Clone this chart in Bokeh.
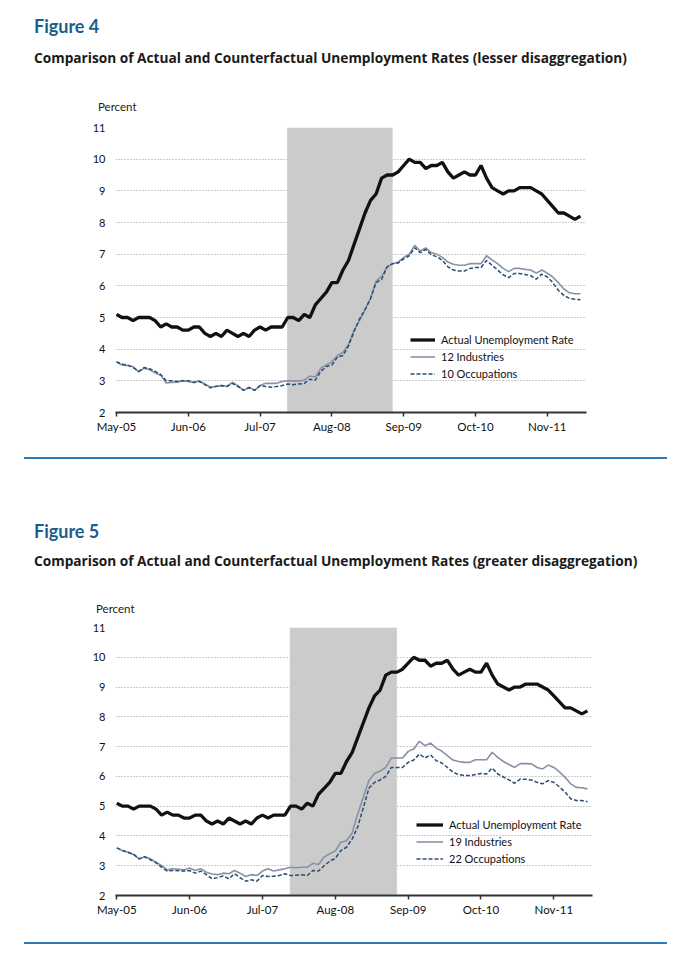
from bokeh.plotting import figure
from bokeh.models import Div, FixedTicker, Legend, LegendItem, Range1d
from bokeh.layouts import column
from bokeh.embed import file_html
from bokeh.resources import INLINE

# ---------------- data ----------------
# monthly index, May-2005 (0) ... May-2012 (84)
months = list(range(85))
tick_months = [0, 13, 26, 39, 52, 65, 78]
tick_labels = ["May-05", "Jun-06", "Jul-07", "Aug-08", "Sep-09", "Oct-10", "Nov-11"]
y_ticks = [2, 3, 4, 5, 6, 7, 8, 9, 10, 11]
recession_start = 30.9   # Dec-07
recession_end = 50.0     # Jul-09

actual = [5.1, 5.0, 5.0, 4.9, 5.0, 5.0, 5.0, 4.9,
          4.7, 4.8, 4.7, 4.7, 4.6, 4.6, 4.7, 4.7, 4.5, 4.4, 4.5, 4.4,
          4.6, 4.5, 4.4, 4.5, 4.4, 4.6, 4.7, 4.6, 4.7, 4.7, 4.7, 5.0,
          5.0, 4.9, 5.1, 5.0, 5.4, 5.6, 5.8, 6.1, 6.1, 6.5, 6.8, 7.3,
          7.8, 8.3, 8.7, 8.9, 9.4, 9.5, 9.5, 9.6, 9.8, 10.0, 9.9, 9.9,
          9.7, 9.8, 9.8, 9.9, 9.6, 9.4, 9.5, 9.6, 9.5, 9.5, 9.8, 9.4,
          9.1, 9.0, 8.9, 9.0, 9.0, 9.1, 9.1, 9.1, 9.0, 8.9, 8.7, 8.5,
          8.3, 8.3, 8.2, 8.1, 8.2]

industries_12 = [3.6, 3.5, 3.48, 3.45, 3.28, 3.4, 3.35, 3.25, 3.18, 2.93,
                 2.95, 2.96, 3.0, 2.98, 2.95, 3.0, 2.9, 2.8, 2.83, 2.85,
                 2.83, 2.95, 2.85, 2.7, 2.8, 2.7, 2.85, 2.92, 2.92, 2.92,
                 2.98, 3.0, 3.0, 3.0, 3.02, 3.15, 3.12, 3.4, 3.5, 3.6,
                 3.8, 3.9, 4.15, 4.6, 4.9, 5.25, 5.6, 6.15, 6.3, 6.6,
                 6.7, 6.75, 6.9, 7.0, 7.28, 7.1, 7.2, 7.05, 7.0, 6.9,
                 6.75, 6.68, 6.65, 6.65, 6.7, 6.7, 6.7, 6.95, 6.82, 6.7,
                 6.55, 6.45, 6.55, 6.55, 6.52, 6.5, 6.4, 6.5, 6.4, 6.28,
                 6.1, 5.9, 5.78, 5.75, 5.75]

occupations_10 = [3.6, 3.52, 3.5, 3.42, 3.3, 3.42, 3.38, 3.3, 3.2, 3.0,
                  3.0, 2.98, 3.0, 3.0, 2.95, 2.98, 2.88, 2.78, 2.82, 2.85,
                  2.82, 2.92, 2.82, 2.7, 2.78, 2.7, 2.85, 2.82, 2.8, 2.82,
                  2.85, 2.9, 2.88, 2.9, 2.92, 3.05, 3.02, 3.3, 3.45, 3.5,
                  3.75, 3.8, 4.1, 4.55, 4.95, 5.25, 5.6, 6.1, 6.2, 6.6,
                  6.7, 6.72, 6.85, 6.95, 7.2, 7.05, 7.15, 6.98, 6.92, 6.8,
                  6.6, 6.5, 6.47, 6.47, 6.55, 6.58, 6.58, 6.8, 6.65, 6.5,
                  6.35, 6.26, 6.39, 6.39, 6.36, 6.32, 6.21, 6.37, 6.28, 6.1,
                  5.86, 5.7, 5.6, 5.58, 5.56]

industries_19 = [3.6, 3.5, 3.45, 3.38, 3.23, 3.3, 3.23, 3.12, 3.0, 2.86,
                 2.9, 2.88, 2.86, 2.92, 2.84, 2.9, 2.78, 2.72, 2.7, 2.75,
                 2.73, 2.84, 2.75, 2.64, 2.7, 2.67, 2.82, 2.9, 2.82, 2.86,
                 2.9, 2.95, 2.93, 2.95, 2.95, 3.08, 3.04, 3.29, 3.4, 3.5,
                 3.79, 3.84, 4.1, 4.74, 5.3, 5.86, 6.1, 6.18, 6.3, 6.62,
                 6.62, 6.62, 6.84, 6.92, 7.18, 7.03, 7.12, 6.95, 6.85, 6.7,
                 6.55, 6.5, 6.47, 6.47, 6.56, 6.56, 6.56, 6.81, 6.64, 6.5,
                 6.4, 6.3, 6.43, 6.43, 6.42, 6.3, 6.25, 6.38, 6.3, 6.15,
                 5.97, 5.75, 5.63, 5.62, 5.58]

occupations_22 = [3.6, 3.52, 3.45, 3.38, 3.23, 3.3, 3.2, 3.1, 2.95, 2.82,
                  2.84, 2.83, 2.82, 2.84, 2.75, 2.82, 2.7, 2.56, 2.6, 2.66,
                  2.56, 2.73, 2.6, 2.48, 2.53, 2.48, 2.67, 2.64, 2.65, 2.67,
                  2.73, 2.67, 2.68, 2.7, 2.67, 2.84, 2.82, 3.0, 3.15, 3.25,
                  3.51, 3.62, 3.9, 4.3, 4.95, 5.6, 5.8, 5.88, 6.0, 6.3,
                  6.3, 6.3, 6.47, 6.55, 6.75, 6.62, 6.72, 6.53, 6.45, 6.3,
                  6.14, 6.06, 6.03, 6.03, 6.06, 6.1, 6.08, 6.28, 6.08, 5.98,
                  5.88, 5.77, 5.91, 5.9, 5.88, 5.8, 5.75, 5.86, 5.8, 5.65,
                  5.47, 5.25, 5.19, 5.19, 5.15]

# ---------------- styling helpers ----------------
FONT = "Lato"
BLACK = "#111111"
IND_COLOR = "#8791a7"
OCC_COLOR = "#2a4d70"
SHADE = "#cbcbcb"
RULE = "#2b7bb9"


def title_div(fig_label, subtitle, h, fig_top, sub_top, pct_top, pct_left):
    html = (
        f'<div style="position:relative;width:674px;height:{h}px;">'
        f'<div style="position:absolute;left:26px;top:{fig_top}px;font-family:Lato;font-size:18px;line-height:18px;'
        f'font-weight:bold;color:#1a5d8f;white-space:nowrap;">{fig_label}</div>'
        f'<div style="position:absolute;left:26px;top:{sub_top}px;font-family:\'Open Sans\';font-size:13.7px;line-height:14px;'
        f'font-weight:bold;color:#1a1a1a;white-space:nowrap;">{subtitle}</div>'
        f'<div style="position:absolute;left:{pct_left}px;top:{pct_top}px;font-family:Lato;font-size:11.5px;line-height:11.5px;'
        f'color:#222222;white-space:nowrap;">Percent</div>'
        '</div>'
    )
    return Div(text=html, width=674, height=h, margin=0)


def rule_div(h, top):
    html = (
        f'<div style="position:relative;width:674px;height:{h}px;">'
        f'<div style="position:absolute;left:16px;top:{top}px;width:643px;height:2px;background:{RULE};"></div>'
        '</div>'
    )
    return Div(text=html, width=674, height=h, margin=0)


def make_chart(ind, occ, ind_label, occ_label, frame_w, frame_h, bl, br, bt, bb,
               x0, x1, leg_loc, glyph_w, dotted_edges):
    p = figure(frame_width=frame_w, frame_height=frame_h,
               x_range=Range1d(x0, x1), y_range=Range1d(2, 11),
               output_backend="svg", toolbar_location=None,
               min_border_left=bl, min_border_right=br,
               min_border_top=bt, min_border_bottom=bb)
    p.outline_line_color = None
    p.background_fill_color = "white"
    p.border_fill_color = "white"

    # recession shading
    p.quad(left=[recession_start], right=[recession_end], bottom=[y_ticks[0]], top=[y_ticks[-1]],
           fill_color=SHADE, line_color="#e6e6e6" if dotted_edges else None,
           line_dash="1 2", line_width=1)

    r_ind = p.line(months, ind, line_color=IND_COLOR, line_width=1.6)
    r_occ = p.line(months, occ, line_color=OCC_COLOR, line_width=1.5, line_dash="4 2")
    r_act = p.line(months, actual, line_color=BLACK, line_width=3.3)

    # axes
    xa = p.xaxis[0]
    xa.ticker = FixedTicker(ticks=tick_months)
    xa.major_label_overrides = {m: lab for m, lab in zip(tick_months, tick_labels)}
    xa.axis_line_color = "#333333"
    xa.axis_line_width = 1.8
    xa.major_tick_line_color = "#333333"
    xa.major_tick_line_width = 1.5
    xa.major_tick_in = 0
    xa.major_tick_out = 4
    xa.minor_tick_line_color = None
    xa.major_label_text_font = FONT
    xa.major_label_text_font_size = "11.5px"
    xa.major_label_text_color = "#111111"
    xa.major_label_standoff = 3

    ya = p.yaxis[0]
    ya.ticker = FixedTicker(ticks=y_ticks)
    ya.axis_line_color = None
    ya.major_tick_line_color = None
    ya.minor_tick_line_color = None
    ya.major_label_text_font = FONT
    ya.major_label_text_font_size = "11px"
    ya.major_label_text_color = "#111111"
    ya.major_label_standoff = 4

    p.xgrid.visible = False
    p.ygrid.ticker = FixedTicker(ticks=y_ticks[1:])
    p.ygrid.grid_line_color = "#9a9a9a"
    p.ygrid.grid_line_dash = "1 2"
    p.ygrid.grid_line_width = 1

    legend = Legend(items=[LegendItem(label="Actual Unemployment Rate", renderers=[r_act]),
                           LegendItem(label=ind_label, renderers=[r_ind]),
                           LegendItem(label=occ_label, renderers=[r_occ])],
                    location=leg_loc, glyph_width=glyph_w, glyph_height=17, label_height=17,
                    spacing=0, padding=0, margin=0, border_line_color=None,
                    background_fill_alpha=0, label_text_font=FONT,
                    label_text_font_size="11px", label_text_color="#111111",
                    label_standoff=6)
    p.add_layout(legend)
    return p


head4 = title_div("Figure 4",
                  "Comparison of Actual and Counterfactual Unemployment Rates (lesser disaggregation)",
                  107, 9, 42.6, 92.5, 90)
chart4 = make_chart(industries_12, occupations_10, "12 Industries", "10 Occupations",
                    471, 285, 107, 96, 12, 28, -0.18, 85.1, (295, 30), 25, False)
rule4 = rule_div(35, 17.3)

head5 = title_div("Figure 5",
                  "Comparison of Actual and Counterfactual Unemployment Rates (greater disaggregation)",
                  138, 47, 79, 128, 88)
chart5 = make_chart(industries_19, occupations_22, "19 Industries", "22 Occupations",
                    477, 268, 104, 93, 14, 30, -0.23, 84.9, (301, 28), 27, True)
rule5 = rule_div(22, 16.5)

layout = column(head4, chart4, rule4, head5, chart5, rule5, spacing=0, margin=(8, 0, 0, 8))

open("out.html", "w").write(file_html(layout, INLINE))
